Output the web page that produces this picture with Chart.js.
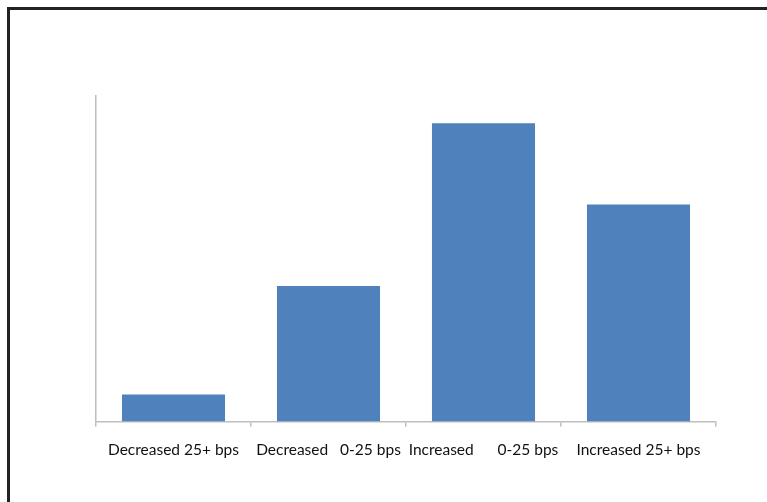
<!DOCTYPE html>
<html>
<head>
<meta charset="utf-8">
<script src="https://cdn.jsdelivr.net/npm/chart.js@4"></script>
<style>
  body { margin: 0; background: #fff; }
  #wrap { position: relative; width: 767px; height: 502px; overflow: hidden; }
  #frame { position: absolute; left: 7px; top: 7px; width: 800px; height: 600px;
           border-left: 3px solid #222; border-top: 3px solid #222; }
  #myChart { position: absolute; left: 0; top: 0; }
</style>
</head>
<body>
<div id="wrap">
  <div id="frame"></div>
  <canvas id="myChart" width="767" height="502"></canvas>
</div>
<script>
const categories = ['Decreased 25+ bps', 'Decreased   0-25 bps', 'Increased      0-25 bps', 'Increased 25+ bps'];
const counts = [1, 5, 11, 8];
const yMax = 12;

function chartIt(){
    const ctx = document.getElementById('myChart');
    const myChart = new Chart(ctx, {
        type: 'bar',
        data: {
            labels: categories,
            datasets: [{
                data: counts,
                backgroundColor: '#4F81BD',
                borderWidth: 0,
                barPercentage: 0.665,
                categoryPercentage: 1
            }]
        },
        options: {
            responsive: false,
            animation: false,
            layout: { padding: { left: 96, top: 96, right: 51, bottom: 0 } },
            plugins: { legend: { display: false }, tooltip: { enabled: false } },
            scales: {
                x: {
                    grid: { display: true, offset: true, drawOnChartArea: false, drawTicks: true, tickLength: 5, color: '#BEBEBE', lineWidth: 1.5 },
                    border: { color: '#BEBEBE', width: 1.5 },
                    ticks: { color: '#111', padding: 14, maxRotation: 0, autoSkip: false,
                             font: { family: 'Lato', size: 15.5 } },
                    afterFit: function(scale){ scale.height = 502 - 421.5; }
                },
                y: {
                    min: 0, max: yMax,
                    grid: { display: false },
                    border: { color: '#BEBEBE', width: 1.5 },
                    ticks: { display: false },
                    afterFit: function(scale){ scale.width = 0; }
                }
            }
        }
    });
}
chartIt();
</script>
</body>
</html>
